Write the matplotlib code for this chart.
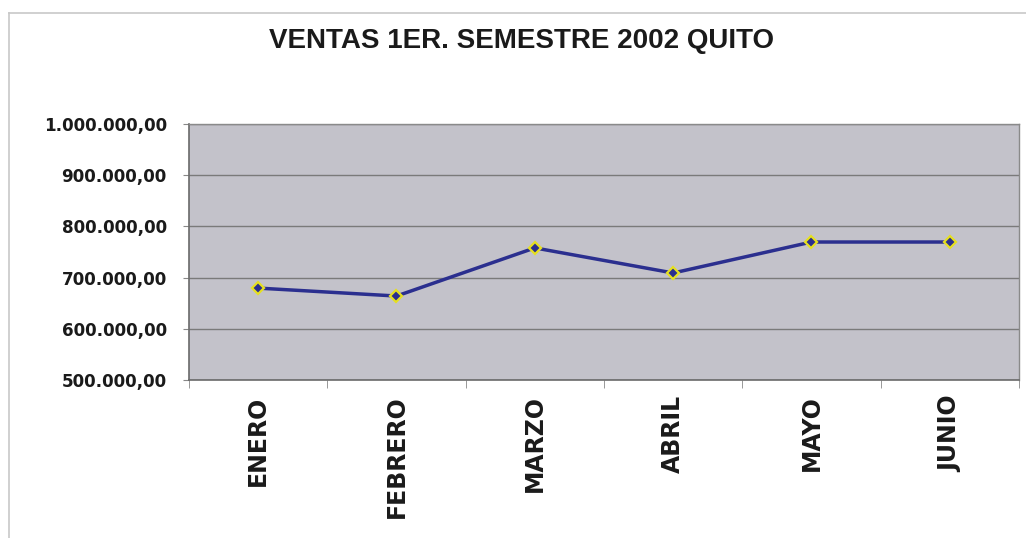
import matplotlib
matplotlib.use("Agg")
import matplotlib.pyplot as plt
from matplotlib.ticker import FuncFormatter, FixedLocator
from matplotlib.lines import Line2D

# datos de ventas
meses = ["ENERO", "FEBRERO", "MARZO", "ABRIL", "MAYO", "JUNIO"]
ventas = [679500, 664000, 758000, 709000, 769500, 769500]
titulo = "VENTAS 1ER. SEMESTRE 2002 QUITO"

def fmt_es(v, pos):
    s = f"{v:,.2f}"
    return s.replace(",", "X").replace(".", ",").replace("X", ".")

plt.rcParams['font.family'] = ['DejaVu Sans']

fig = plt.figure(figsize=(10.26, 5.38), dpi=100)
ax = fig.add_axes([189/1026, 158/538, 830/1026, 256/538])
ax.set_facecolor('#c3c2ca')

x = list(range(len(meses)))
ax.plot(x, ventas, color='#2b2f8f', lw=2.5, marker='D', ms=6.5,
        mfc='#2b2f8f', mec='#e6e020', mew=1.6, zorder=3)

ax.set_xlim(-0.5, len(meses) - 0.5)
ax.set_ylim(500000, 1000000)
ax.set_yticks([500000, 600000, 700000, 800000, 900000, 1000000])
ax.yaxis.set_major_formatter(FuncFormatter(fmt_es))
ax.grid(axis='y', color='#7a7a7a', lw=1.0)

# categorias en el centro, ticks en los limites
ax.set_xticks(x)
ax.set_xticklabels(meses, rotation=90, va='top', ha='center',
                   fontsize=17, fontweight='bold', color='#1a1a1a')
ax.tick_params(axis='x', length=0, pad=11)
ax.xaxis.set_minor_locator(FixedLocator([i - 0.5 for i in range(len(meses) + 1)]))
ax.tick_params(axis='x', which='minor', length=6, color='#888888', direction='out')
ax.tick_params(axis='y', length=4, color='#888888', direction='out', pad=12,
               labelsize=12.1, labelcolor='#1a1a1a')
for lab in ax.get_yticklabels():
    lab.set_fontweight('bold')

for side in ['left', 'bottom']:
    ax.spines[side].set_color('#6a6a6a')
    ax.spines[side].set_linewidth(1.2)
for side in ['top', 'right']:
    ax.spines[side].set_color('#8a8a8a')
    ax.spines[side].set_linewidth(1.0)

fig.text(0.508, 0.924, titulo, ha='center', va='center', family='Liberation Sans',
         fontsize=20, fontweight='bold', color='#1a1a1a')

# borde exterior del area del grafico
fig.add_artist(Line2D([9/1026, 9/1026], [0, 1 - 13/538], color='#c8c8c8', lw=1.2))
fig.add_artist(Line2D([9/1026, 1], [1 - 13/538, 1 - 13/538], color='#c8c8c8', lw=1.2))

fig.savefig("out.png", dpi=100)
